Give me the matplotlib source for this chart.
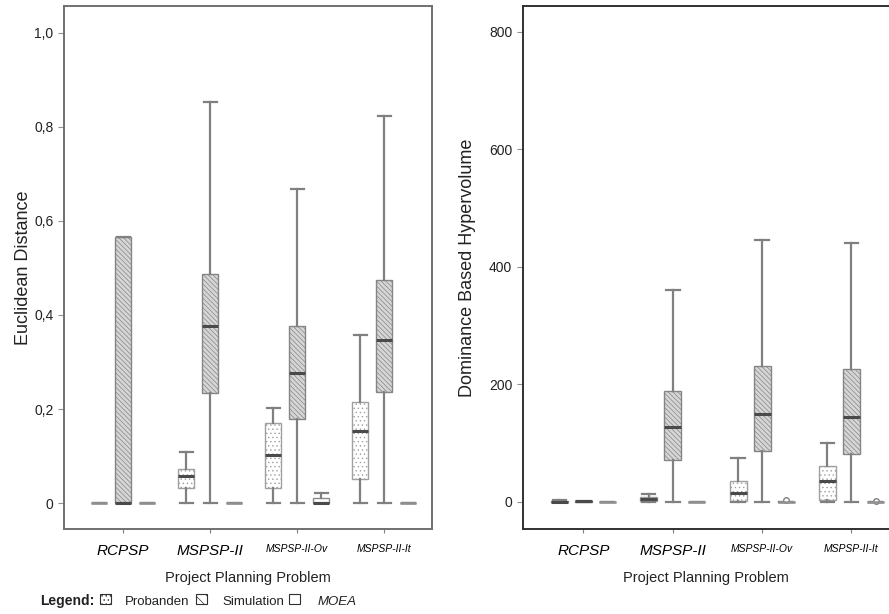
import matplotlib.pyplot as plt
from matplotlib.patches import Rectangle
from matplotlib.ticker import FuncFormatter

plt.rcParams['font.family'] = ['Liberation Sans', 'DejaVu Sans']
plt.rcParams['hatch.linewidth'] = 0.5

problems = ["RCPSP", "MSPSP-II", "MSPSP-II-Ov", "MSPSP-II-It"]
series = ["Probanden", "Simulation", "MOEA"]

# Euclidean distance: whisker low, q1, median, q3, whisker high
ed_probanden = [(0, 0, 0, 0, 0), (0, 0.032, 0.058, 0.073, 0.108),
                (0, 0.032, 0.103, 0.170, 0.202), (0, 0.051, 0.153, 0.215, 0.358)]
ed_simulation = [(0, 0, 0, 0.565, 0.565), (0, 0.234, 0.377, 0.487, 0.853),
                 (0, 0.179, 0.277, 0.377, 0.668), (0, 0.236, 0.347, 0.475, 0.822)]
ed_moea = [(0, 0, 0, 0, 0), (0, 0, 0, 0, 0),
           (0, 0, 0, 0.011, 0.022), (0, 0, 0, 0, 0)]

# Dominance based hypervolume
hv_probanden = [(0, 0, 0.5, 1, 3), (0, 1, 5, 8, 14),
                (0, 2, 15, 35, 74), (0, 3, 36, 62, 101)]
hv_simulation = [(0, 0, 1, 1, 1), (0, 71, 128, 188, 361),
                 (0, 86, 150, 232, 446), (0, 82, 144, 227, 441)]
hv_moea = [(0, 0, 0, 0, 0), (0, 0, 0, 0, 0),
           (0, 0, 0, 0, 0), (0, 0, 0, 0, 0)]
hv_moea_fliers = [[], [], [4], [1]]

fig = plt.figure(figsize=(8.89, 6.14), dpi=100)
ax1 = fig.add_axes([0.072, 0.1384, 0.414, 0.852])
ax2 = fig.add_axes([0.588, 0.1384, 0.413, 0.852])

styles = {
    "Probanden": dict(facecolor="white", hatch="....", edgecolor="#a0a0a0"),
    "Simulation": dict(facecolor="#d6d6d6", hatch="\\\\\\\\\\\\\\", edgecolor="#858585"),
    "MOEA": dict(facecolor="white", hatch="", edgecolor="#8a8a8a"),
}


def make_stats(rows, fliers=None):
    out = []
    for i, r in enumerate(rows):
        out.append(dict(whislo=r[0], q1=r[1], med=r[2], q3=r[3], whishi=r[4],
                        fliers=(fliers[i] if fliers else [])))
    return out


def draw(ax, data, offset, width):
    for k, (name, rows, fl) in enumerate(data):
        pos = [i + (k - 1) * offset for i in range(len(problems))]
        st = styles[name]
        b = ax.bxp(make_stats(rows, fl), positions=pos, widths=width,
                   patch_artist=True, manage_ticks=False,
                   boxprops=dict(linewidth=1.0),
                   whiskerprops=dict(color="#808080", linewidth=1.6),
                   capprops=dict(color="#808080", linewidth=1.6),
                   medianprops=dict(color="#4a4a4a", linewidth=2.2),
                   flierprops=dict(marker="o", markersize=4, markerfacecolor="white",
                                   markeredgecolor="#808080"))
        for p in b["boxes"]:
            p.set_facecolor(st["facecolor"])
            p.set_edgecolor(st["edgecolor"])
            p.set_hatch(st["hatch"])
        for r, med in zip(rows, b["medians"]):
            if r[1] == r[3]:
                med.set_color("#909090")
                med.set_linewidth(1.8)
        for c in b["caps"]:
            x0, x1 = c.get_xdata()
            m = (x0 + x1) / 2
            c.set_xdata([m - width * 0.4, m + width * 0.4])


draw(ax1, [("Probanden", ed_probanden, None), ("Simulation", ed_simulation, None),
           ("MOEA", ed_moea, None)], 0.276, 0.19)
draw(ax2, [("Probanden", hv_probanden, None), ("Simulation", hv_simulation, None),
           ("MOEA", hv_moea, hv_moea_fliers)], 0.27, 0.19)

ax1.set_xlim(-0.68, 3.55)
ax1.set_ylim(-0.055, 1.057)
ax1.set_yticks([0, 0.2, 0.4, 0.6, 0.8, 1.0])
ax1.yaxis.set_major_formatter(FuncFormatter(
    lambda v, p: "0" if v == 0 else f"{v:.1f}".replace(".", ",")))
ax1.set_ylabel("Euclidean Distance", fontsize=13, color="#222222")
ax1.yaxis.set_label_coords(-0.088, 0.5)

ax2.set_xlim(-0.68, 3.43)
ax2.set_ylim(-46, 844)
ax2.set_yticks([0, 200, 400, 600, 800])
ax2.set_ylabel("Dominance Based Hypervolume", fontsize=13, color="#222222")
ax2.yaxis.set_label_coords(-0.128, 0.5)

for ax in (ax1, ax2):
    ax.set_xticks(range(len(problems)))
    ax.set_xticklabels(problems)
    for lab, fs in zip(ax.get_xticklabels(), [11, 11, 7.5, 7.5]):
        lab.set_fontsize(fs)
        lab.set_style("italic")
    ax.tick_params(axis="x", length=3, color="#808080", pad=8)
    ax.tick_params(axis="y", length=4, color="#909090", labelsize=10, labelcolor="#222222")
    ax.set_xlabel("Project Planning Problem", fontsize=10.5, color="#222222", labelpad=9)

for s in ax1.spines.values():
    s.set_color("#707070")
    s.set_linewidth(1.4)
for s in ax2.spines.values():
    s.set_color("#303030")
    s.set_linewidth(1.4)
ax2.spines["right"].set_visible(False)

# legend row at the bottom
fig.text(0.045, 0.015, "Legend:", fontsize=10, fontweight="bold", color="#222222")
icons = [(0.1125, 0.1406, "Probanden", "normal", "...."),
         (0.2205, 0.2497, "Simulation", "normal", "\\\\\\"),
         (0.3250, 0.3577, "MOEA", "italic", "")]
for xi, xt, name, style, hatch in icons:
    fig.patches.append(Rectangle((xi, 0.0155), 0.012, 0.017, transform=fig.transFigure,
                                 facecolor="white", edgecolor="#303030",
                                 linewidth=0.8, hatch=hatch))
    fig.text(xt, 0.015, name, fontsize=9.5, style=style, color="#222222")

fig.savefig("out.png", dpi=100)
